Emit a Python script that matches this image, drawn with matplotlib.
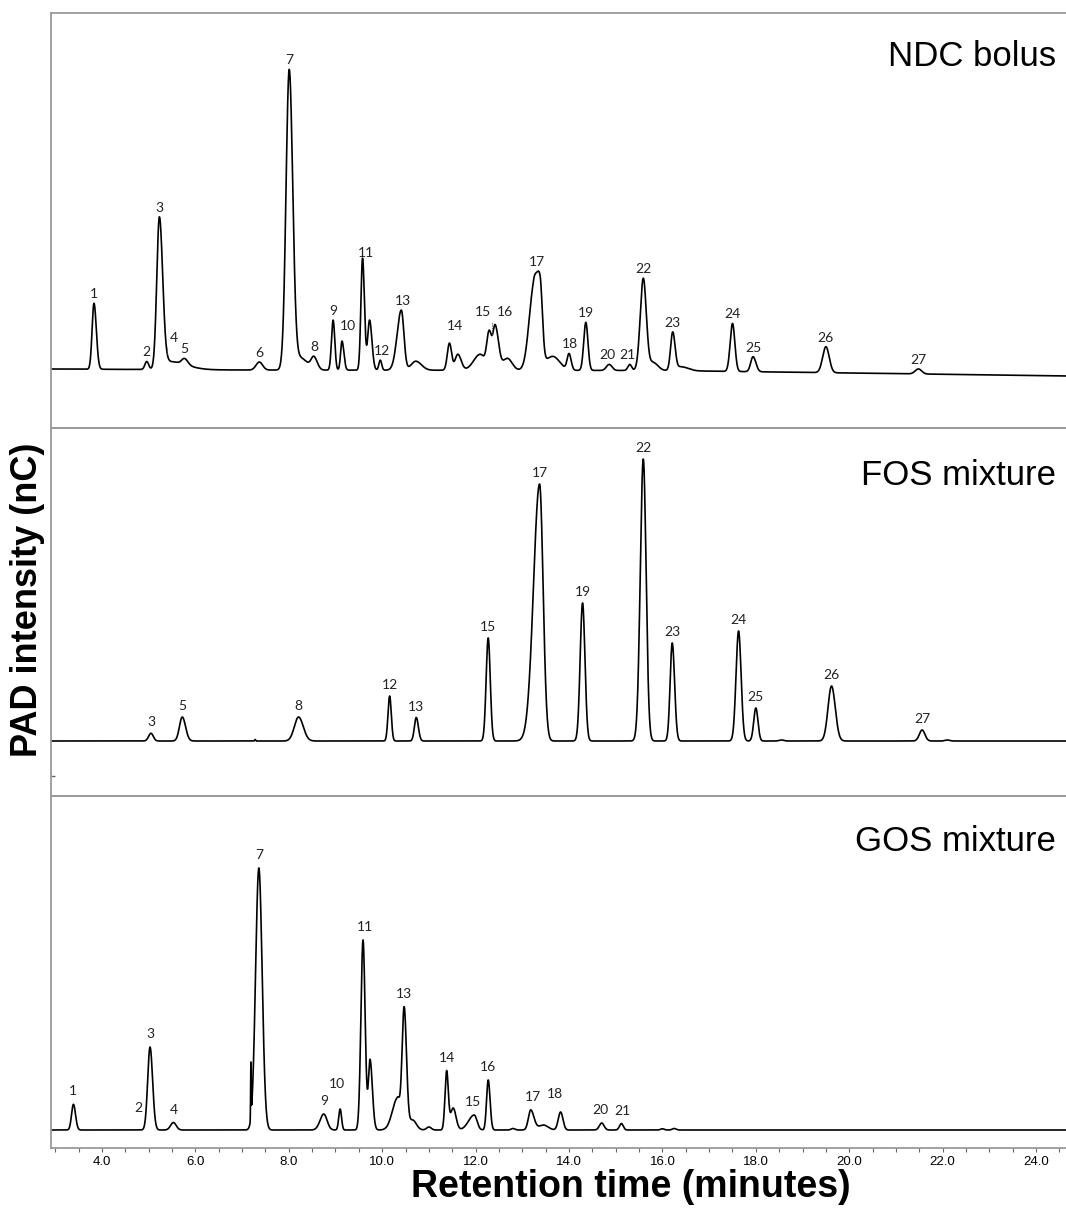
import numpy as np
import matplotlib
matplotlib.use("Agg")
import matplotlib.pyplot as plt
from matplotlib.ticker import MultipleLocator

# ---- data: peak tables (rt in minutes, height in nC-ish units)
# NDC bolus
ndc_rt = [3.83, 4.96, 5.23, 5.45, 5.77, 7.37, 8.01, 8.25, 8.54, 8.95, 9.14, 9.58, 9.73,
          9.96, 10.41, 10.72, 11.44, 11.62, 12.10, 12.29, 12.42, 12.68, 13.24, 13.38, 13.65,
          14.00, 14.36, 14.86, 15.30, 15.59, 15.80, 16.22, 16.40, 17.50, 17.94, 19.50, 21.48]
ndc_h = [66, 8, 150, 8, 6, 8, 300, 12, 12, 50, 29, 112, 50,
         10, 60, 9, 27, 16, 16, 36, 44, 12, 78, 80, 14,
         16, 48, 6, 6, 92, 8, 38, 4, 48, 15, 26, 5]
ndc_sl = [0.04, 0.04, 0.055, 0.15, 0.06, 0.07, 0.068, 0.10, 0.06, 0.035, 0.03, 0.035, 0.04,
          0.03, 0.09, 0.10, 0.045, 0.06, 0.14, 0.05, 0.05, 0.10, 0.10, 0.07, 0.18,
          0.04, 0.045, 0.06, 0.04, 0.065, 0.08, 0.045, 0.10, 0.05, 0.05, 0.07, 0.07]
ndc_sr = [0.05, 0.04, 0.07, 0.35, 0.07, 0.07, 0.075, 0.15, 0.07, 0.035, 0.04, 0.04, 0.05,
          0.03, 0.055, 0.12, 0.045, 0.07, 0.10, 0.05, 0.07, 0.10, 0.07, 0.05, 0.15,
          0.045, 0.045, 0.06, 0.04, 0.065, 0.10, 0.05, 0.15, 0.05, 0.06, 0.07, 0.07]
ndc_drift_t = [2.9, 7.0, 16.0, 20.0, 24.7]
ndc_drift_y = [0.0, -1.0, -1.5, -4.0, -7.0]
ndc_labels = [str(i) for i in range(1, 28)]
ndc_label_rt = [3.83, 4.96, 5.23, 5.55, 5.77, 7.37, 8.01, 8.54, 8.95, 9.26, 9.65, 10.00, 10.44,
                11.55, 12.16, 12.62, 13.31, 14.03, 14.36, 14.83, 15.26, 15.60, 16.22, 17.50,
                17.94, 19.50, 21.48]
ndc_label_h = [np.nan, np.nan, np.nan, 22, np.nan, np.nan, np.nan, np.nan, np.nan, 34, np.nan,
               np.nan, np.nan, 34, 48, 48, np.nan, np.nan, np.nan, np.nan, np.nan, np.nan,
               np.nan, np.nan, np.nan, np.nan, np.nan]
ndc_mark_rt = [5.40, 12.36]
ndc_mark_h = [22, 47]

# FOS mixture
fos_rt = [5.05, 5.72, 7.28, 8.21, 10.16, 10.73, 12.27, 13.37, 14.29, 15.59, 16.21, 17.63,
          18.00, 18.55, 19.62, 21.56, 22.10]
fos_h = [7.7, 24, 1.5, 24, 45, 23.5, 103, 257, 138, 282, 98, 110, 33, 1, 55, 11, 1]
fos_sl = [0.05, 0.06, 0.01, 0.09, 0.035, 0.04, 0.044, 0.13, 0.051, 0.064, 0.045, 0.054,
          0.045, 0.05, 0.075, 0.06, 0.05]
fos_sr = [0.05, 0.07, 0.01, 0.10, 0.035, 0.045, 0.044, 0.075, 0.051, 0.06, 0.05, 0.054,
          0.045, 0.05, 0.08, 0.06, 0.05]
fos_labels = ["3", "5", "8", "12", "13", "15", "17", "19", "22", "23", "24", "25", "26", "27"]
fos_label_rt = [5.05, 5.72, 8.21, 10.16, 10.73, 12.27, 13.37, 14.29, 15.59, 16.21, 17.63,
                18.00, 19.62, 21.56]

# GOS mixture
gos_rt = [3.39, 5.03, 5.53, 7.19, 7.36, 8.75, 9.10, 9.59, 9.74, 10.33, 10.47, 10.65, 11.00,
          11.38, 11.52, 11.97, 12.27, 12.80, 13.18, 13.45, 13.82, 14.70, 15.12, 16.00, 16.25]
gos_h = [25.7, 83, 7.5, 55, 262, 16, 21, 190, 70, 32, 122, 10, 3,
         58, 22, 15, 50, 1.5, 20, 5, 18, 7, 6.5, 1.2, 1.5]
gos_sl = [0.04, 0.05, 0.06, 0.006, 0.07, 0.08, 0.03, 0.045, 0.035, 0.11, 0.045, 0.08, 0.05,
          0.035, 0.06, 0.12, 0.035, 0.04, 0.05, 0.10, 0.05, 0.05, 0.04, 0.04, 0.04]
gos_sr = [0.045, 0.055, 0.06, 0.006, 0.07, 0.07, 0.03, 0.045, 0.05, 0.05, 0.05, 0.08, 0.05,
          0.035, 0.06, 0.06, 0.04, 0.04, 0.07, 0.10, 0.05, 0.05, 0.04, 0.04, 0.04]
gos_labels = ["1", "2", "3", "4", "7", "9", "10", "11", "13", "14", "15", "16", "17", "18",
              "20", "21"]
gos_label_rt = [3.39, 4.79, 5.03, 5.53, 7.36, 8.75, 9.04, 9.63, 10.47, 11.38, 11.94, 12.27,
                13.22, 13.70, 14.67, 15.15]
gos_label_h = [np.nan, 9, np.nan, np.nan, np.nan, np.nan, 33, np.nan, np.nan, np.nan, np.nan,
               np.nan, np.nan, 23, np.nan, np.nan]

x_min, x_max = 2.91, 24.64
t = np.linspace(x_min, x_max, 8000)


def chromatogram(rt, h, sl, sr):
    y = np.zeros_like(t)
    for c, a, s1, s2 in zip(rt, h, sl, sr):
        s = np.where(t < c, s1, s2)
        y += a * np.exp(-0.5 * ((t - c) / s) ** 2)
    return y


def put_labels(ax, y, names, where, heights=None, gap=4):
    for i, (n, x) in enumerate(zip(names, where)):
        if heights is not None and not np.isnan(heights[i]):
            yy = heights[i]
        else:
            win = (t > x - 0.06) & (t < x + 0.06)
            yy = y[win].max()
        ax.text(x, yy + gap, n, ha="center", va="bottom", fontsize=10,
                family="Lato", color="#222222")


W, H = 1066, 1213
fig = plt.figure(figsize=(W / 100, H / 100), dpi=100)
left = 51 / W
grey = "#9a9a9a"

# panel edges in pixels (top, bottom, baseline)
panels = [(13, 428, 369), (428, 796, 741), (796, 1148, 1130)]
axes = []
for top, bot, base in panels:
    ax = fig.add_axes([left, 1 - bot / H, 1 - left, (bot - top) / H])
    ax.set_xlim(x_min, x_max)
    ax.set_ylim(base - bot, base - top)
    ax.spines["right"].set_visible(False)
    for s in ["left", "top", "bottom"]:
        ax.spines[s].set_color(grey)
        ax.spines[s].set_linewidth(1.3)
    ax.set_yticks([])
    ax.set_xticks([])
    ax.patch.set_alpha(0)
    axes.append(ax)

ax1, ax2, ax3 = axes

# NDC bolus
y1 = chromatogram(ndc_rt, ndc_h, ndc_sl, ndc_sr) + np.interp(t, ndc_drift_t, ndc_drift_y)
ax1.plot(t, y1, color="black", lw=1.2)
for x, hm in zip(ndc_mark_rt, ndc_mark_h):
    yb = np.interp(x, t, y1)
    ax1.plot([x, x], [yb, hm], color="#555555", lw=0.8, ls=(0, (1, 1)))
put_labels(ax1, y1, ndc_labels, ndc_label_rt, ndc_label_h, gap=3)
ax1.text(0.99, 0.894, "NDC bolus", transform=ax1.transAxes, ha="right", va="center",
         fontsize=25, family="Liberation Sans")

# FOS mixture
y2 = chromatogram(fos_rt, fos_h, fos_sl, fos_sr)
ax2.plot(t, y2, color="black", lw=1.2)
put_labels(ax2, y2, fos_labels, fos_label_rt, gap=5)
ax2.text(0.99, 0.87, "FOS mixture", transform=ax2.transAxes, ha="right", va="center",
         fontsize=25, family="Liberation Sans")
ax2.set_yticks([-35])
ax2.set_yticklabels([])
ax2.tick_params(axis="y", direction="in", length=3, color="#666666", width=1)

# GOS mixture
y3 = chromatogram(gos_rt, gos_h, gos_sl, gos_sr)
ax3.plot(t, y3, color="black", lw=1.2)
put_labels(ax3, y3, gos_labels, gos_label_rt, gos_label_h, gap=7)
ax3.text(0.99, 0.872, "GOS mixture", transform=ax3.transAxes, ha="right", va="center",
         fontsize=25, family="Liberation Sans")

ax3.set_xticks(np.arange(4, 25, 2))
ax3.set_xticklabels([f"{v:.1f}" for v in np.arange(4, 25, 2)])
ax3.xaxis.set_minor_locator(MultipleLocator(0.5))
ax3.tick_params(axis="x", which="both", direction="out", length=3, width=0.8,
                color="#666666", labelsize=9.5, pad=3)
for lab in ax3.get_xticklabels():
    lab.set_family("Liberation Sans")

fig.text(0.592, 1 - 1187 / H, "Retention time (minutes)", ha="center", va="center",
         fontsize=27, fontweight="bold", family="Liberation Sans")
fig.text(28 / W, 1 - 600 / H, "PAD intensity (nC)", ha="center", va="center", rotation=90,
         fontsize=26, fontweight="bold", family="Liberation Sans")

fig.savefig("out.png", dpi=100)
